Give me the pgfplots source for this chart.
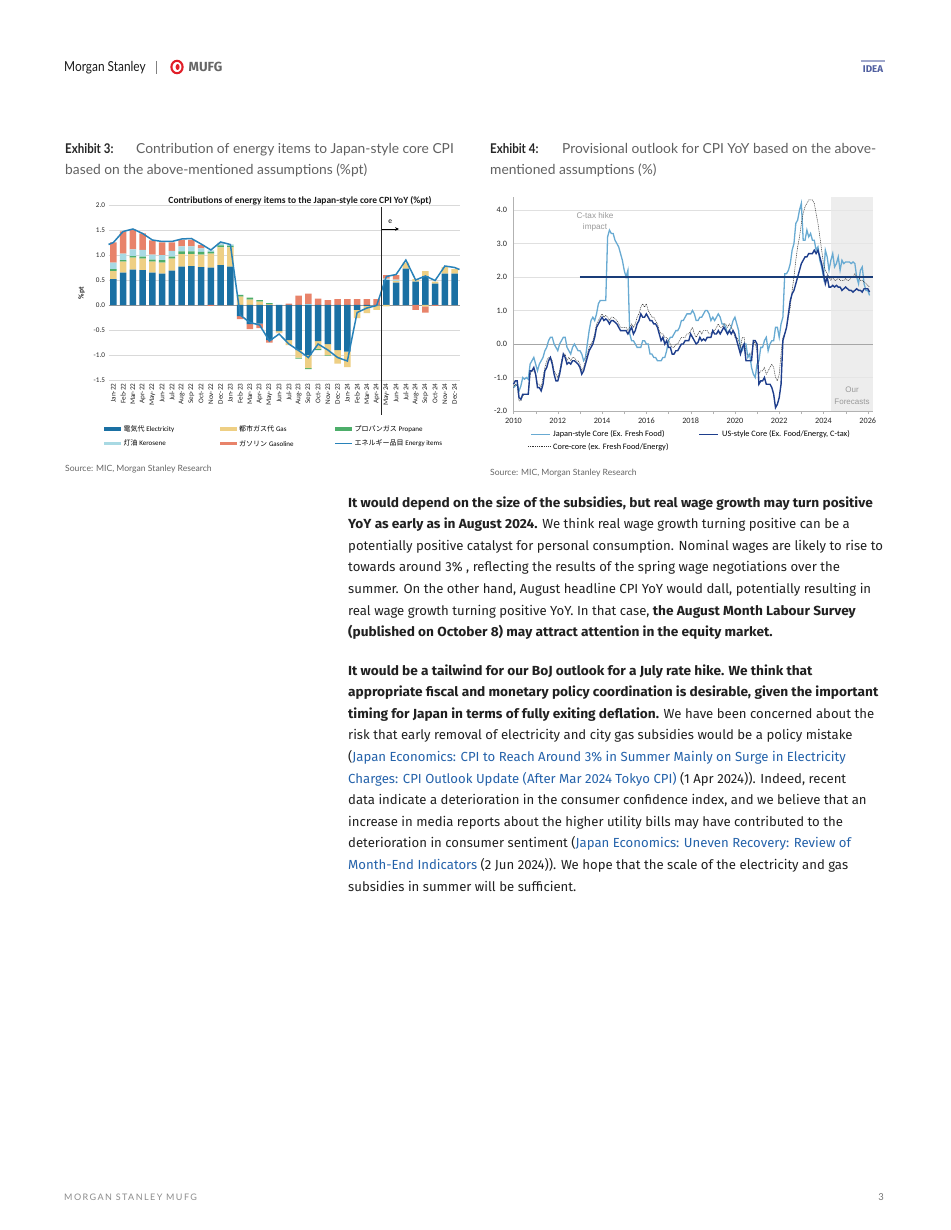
\documentclass[border=0pt]{standalone}
\usepackage{pgfplots}
\pgfplotsset{compat=1.18}
\usepackage{pgfplotstable}
\usetikzlibrary{arrows.meta}
\usepackage{fontspec}
\setmainfont{Fira Sans}
\newfontfamily\bodyfont[BoldFeatures={FakeStretch=1.04}]{Fira Sans}
\newfontfamily\capfont[FakeStretch=0.86]{Lato}
\newfontfamily\captext{Lato}
\newfontfamily\chartfont{Carlito}
\newfontfamily\jpfont{Noto Sans CJK JP}
\newfontfamily\arialfont{Liberation Sans}
\newfontfamily\footfont[LetterSpace=16]{Lato}

\definecolor{elec}{RGB}{26,112,163}
\definecolor{gasc}{RGB}{238,207,132}
\definecolor{prop}{RGB}{77,174,106}
\definecolor{kero}{RGB}{168,217,227}
\definecolor{gaso}{RGB}{232,131,106}
\definecolor{enl}{RGB}{40,130,185}
\definecolor{jpc}{RGB}{104,170,210}
\definecolor{usc}{RGB}{30,62,140}
\definecolor{tgt}{RGB}{25,60,120}
\definecolor{linkc}{RGB}{36,98,170}
\definecolor{mufgred}{RGB}{225,30,40}
\definecolor{idea}{RGB}{80,95,160}

% Exhibit 3: positive contributions
\pgfplotstableread{
x e g p k s
0 0.52 0.16 0.04 0.13 0.40
1 0.65 0.22 0.03 0.13 0.44
2 0.71 0.24 0.03 0.13 0.40
3 0.70 0.23 0.04 0.13 0.33
4 0.65 0.22 0.04 0.10 0.28
5 0.63 0.22 0.05 0.10 0.25
6 0.69 0.24 0.04 0.11 0.17
7 0.77 0.25 0.05 0.10 0.13
8 0.78 0.24 0.05 0.10 0.13
9 0.76 0.25 0.05 0.07 0.07
10 0.75 0.28 0.03 0.03 0
11 0.80 0.35 0.04 0.04 0.01
12 0.77 0.38 0.03 0.03 0
13 0 0.17 0.03 0.01 0
14 0 0.11 0.04 0 0
15 0 0.07 0.03 0 0
16 0 0.02 0.02 0 0
17 0 0 0 0 0
18 0 0 0 0 0.03
19 0 0 0 0 0.19
20 0 0 0 0.02 0.21
21 0 0 0 0 0.13
22 0 0 0 0 0.10
23 0 0 0 0 0.12
24 0 0 0 0 0.12
25 0 0 0 0 0.12
26 0 0 0 0 0.12
27 0 0 0 0 0.12
28 0.50 0 0 0.03 0.07
29 0.45 0.03 0 0.03 0.09
30 0.73 0.12 0 0 0
31 0.47 0.05 0 0 0
32 0.58 0.10 0 0 0
33 0.43 0.04 0 0 0
34 0.63 0.13 0 0 0
35 0.63 0.09 0 0 0
}\posdata

% Exhibit 3: negative contributions
\pgfplotstableread{
x e g p k s
10 0 0 0 0 -0.02
13 -0.22 0 0 0 -0.06
14 -0.38 0 0 0 -0.10
15 -0.37 0 0 0 -0.09
16 -0.70 0 0 0 -0.05
17 -0.52 -0.03 0 0 -0.01
18 -0.70 -0.10 0 0 0
19 -0.90 -0.15 -0.02 0 0
20 -1.00 -0.26 -0.02 0 0
21 -0.72 -0.15 -0.03 0 0
22 -0.78 -0.22 -0.01 0 0
23 -0.90 -0.27 0 0 0
24 -0.93 -0.31 0 0 0
25 -0.10 -0.16 0 0 0
26 -0.02 -0.14 0 0 0
27 -0.01 -0.09 0 0 0
28 0 -0.03 0 0 0
31 0 0 0 0 -0.10
32 0 -0.03 0 0 -0.12
33 0 0 0 0 -0.02
}\negdata

% Exhibit 3: energy items total
\pgfplotstableread{
x y
-0.5 1.21
0 1.25
1 1.47
2 1.52
3 1.43
4 1.30
5 1.27
6 1.27
7 1.32
8 1.33
9 1.22
10 1.10
11 1.26
12 1.21
13 -0.20
14 -0.35
15 -0.40
16 -0.72
17 -0.58
18 -0.78
19 -0.91
20 -1.05
21 -0.78
22 -0.90
23 -1.05
24 -1.12
25 -0.15
26 -0.06
27 -0.01
28 0.57
29 0.61
30 0.90
31 0.50
32 0.58
33 0.49
34 0.78
35 0.75
35.5 0.71
}\enline

% Exhibit 4: monthly YoY, m = months since Jan 2010
\pgfplotstableread{
m jp us cc
0 -1.30 -1.20 -1.30
1 -1.25 -1.10 -1.20
2 -1.20 -1.10 -1.25
3 -1.40 -1.60 -1.70
4 -1.25 -1.65 -1.70
5 -1.00 -1.50 -1.55
6 -1.05 -1.50 -1.50
7 -1.00 -1.50 -1.50
8 -1.05 -1.50 -1.50
9 -0.60 -0.80 -0.90
10 -0.50 -0.80 -0.80
11 -0.40 -0.70 -0.80
12 -0.60 -0.90 -0.90
13 -0.80 -1.30 -1.20
14 -0.60 -1.30 -1.20
15 -0.50 -1.40 -1.30
16 -0.40 -1.20 -1.00
17 -0.20 -0.80 -0.70
18 -0.10 -0.70 -0.50
19 0.10 -0.50 -0.40
20 0.20 -0.40 -0.40
21 0.20 -0.60 -0.50
22 0.00 -0.90 -0.80
23 -0.10 -1.10 -0.90
24 -0.20 -1.10 -1.00
25 0.00 -0.90 -0.80
26 0.10 -0.60 -0.50
27 0.20 -0.30 -0.30
28 0.20 -0.40 -0.30
29 -0.10 -0.60 -0.50
30 -0.20 -0.55 -0.40
31 -0.30 -0.60 -0.50
32 -0.10 -0.50 -0.40
33 0.00 -0.50 -0.40
34 -0.10 -0.55 -0.50
35 -0.20 -0.60 -0.50
36 -0.20 -0.70 -0.60
37 -0.30 -0.90 -0.80
38 -0.50 -0.80 -0.70
39 -0.40 -0.60 -0.50
40 0.00 -0.40 -0.30
41 0.40 -0.20 -0.10
42 0.70 -0.10 0.00
43 0.80 0.00 0.10
44 0.70 0.20 0.30
45 0.90 0.50 0.60
46 1.20 0.60 0.70
47 1.30 0.70 0.80
48 1.30 0.80 0.90
49 1.30 0.70 0.80
50 1.30 0.75 0.85
51 3.20 0.70 0.80
52 3.40 0.60 0.70
53 3.30 0.70 0.80
54 3.30 0.70 0.80
55 3.10 0.65 0.75
56 3.00 0.60 0.70
57 2.90 0.50 0.60
58 2.70 0.40 0.50
59 2.50 0.40 0.50
60 2.20 0.40 0.50
61 2.00 0.40 0.50
62 2.20 0.30 0.40
63 0.30 0.40 0.50
64 0.10 0.50 0.60
65 0.10 0.30 0.50
66 0.00 0.40 0.60
67 -0.10 0.60 0.80
68 -0.10 0.70 0.90
69 -0.10 0.90 1.10
70 0.10 0.80 1.20
71 0.10 0.80 1.10
72 0.00 0.90 1.20
73 0.00 0.80 1.00
74 -0.30 0.70 0.90
75 -0.30 0.70 0.80
76 -0.40 0.60 0.80
77 -0.40 0.60 0.70
78 -0.50 0.50 0.60
79 -0.50 0.30 0.40
80 -0.50 0.10 0.30
81 -0.40 0.20 0.30
82 -0.40 0.00 0.20
83 -0.20 0.10 0.20
84 0.10 -0.10 0.10
85 0.20 -0.10 0.00
86 0.20 -0.30 -0.10
87 0.30 -0.30 -0.10
88 0.40 -0.20 0.00
89 0.40 -0.20 0.00
90 0.50 -0.10 0.10
91 0.70 0.00 0.20
92 0.70 0.00 0.20
93 0.80 0.10 0.20
94 0.90 0.10 0.30
95 0.90 0.10 0.30
96 0.90 0.30 0.40
97 1.00 0.20 0.50
98 0.90 0.10 0.30
99 0.70 0.00 0.20
100 0.70 0.05 0.30
101 0.80 0.20 0.40
102 0.80 0.10 0.30
103 0.90 0.15 0.40
104 1.00 0.10 0.40
105 1.00 0.20 0.40
106 0.90 0.20 0.30
107 0.70 0.20 0.30
108 0.80 0.40 0.40
109 0.70 0.30 0.40
110 0.80 0.30 0.50
111 0.90 0.40 0.60
112 0.80 0.30 0.50
113 0.60 0.40 0.50
114 0.60 0.50 0.60
115 0.50 0.40 0.60
116 0.30 0.30 0.50
117 0.40 0.40 0.60
118 0.50 0.30 0.50
119 0.70 0.40 0.40
120 0.80 0.30 0.20
121 0.60 0.10 0.20
122 0.40 -0.10 0.10
123 -0.20 -0.30 -0.10
124 -0.20 -0.10 0.20
125 0.00 0.00 0.20
126 0.00 -0.50 -0.30
127 -0.40 -0.50 -0.30
128 -0.30 -0.50 -0.30
129 -0.70 -0.50 -0.30
130 -0.90 0.10 0.10
131 -1.00 0.10 0.00
132 -0.60 0.00 -0.20
133 -0.50 -1.20 -0.90
134 -0.10 -1.10 -0.80
135 -0.10 -1.10 -0.80
136 0.10 -1.00 -0.70
137 0.20 -1.20 -0.90
138 -0.20 -1.20 -0.80
139 0.00 -1.20 -0.70
140 0.10 -1.30 -0.60
141 0.10 -1.50 -0.70
142 0.50 -1.90 -1.00
143 0.50 -1.80 -1.10
144 0.20 -1.60 -0.90
145 0.60 -1.20 -0.30
146 0.80 0.10 0.20
147 2.10 0.30 0.30
148 2.10 0.50 0.50
149 2.20 0.90 0.80
150 2.40 1.30 1.10
151 2.80 1.50 1.60
152 3.00 1.60 2.00
153 3.60 1.80 2.50
154 3.70 2.00 2.90
155 4.00 2.20 3.20
156 4.20 2.40 3.60
157 3.10 2.50 3.90
158 3.10 2.60 4.10
159 3.40 2.60 4.20
160 3.20 2.70 4.30
161 3.30 2.70 4.30
162 3.10 2.70 4.30
163 3.10 2.80 4.20
164 2.80 2.70 3.90
165 2.90 2.80 3.60
166 2.50 2.60 3.20
167 2.30 2.40 2.80
168 2.00 2.10 2.40
169 2.80 1.80 2.20
170 2.60 2.00 2.10
171 2.20 1.70 2.00
172 2.50 1.70 1.90
173 2.70 1.75 2.00
174 2.30 1.70 1.90
175 2.40 1.75 1.90
176 2.60 1.70 2.00
177 2.20 1.70 1.90
178 2.50 1.60 1.90
179 2.40 1.65 1.90
180 2.45 1.70 1.95
181 2.45 1.65 1.90
182 2.45 1.60 1.90
183 2.40 1.60 2.00
184 2.45 1.55 2.00
185 2.40 1.60 2.10
186 2.00 1.65 2.00
187 1.80 1.60 2.00
188 2.20 1.60 1.90
189 2.30 1.55 1.90
190 1.80 1.65 1.85
191 1.60 1.65 1.80
192 1.60 1.65 1.75
193 1.45 1.55 1.70
}\cpidata

\newcommand{\bl}[2]{\node[anchor=base west, inner sep=0pt, font=\bodyfont\fontsize{13.15}{15}\selectfont, text=black!87] at (348pt,-#1pt) {#2};}
\newcommand{\lk}[1]{\textcolor{linkc}{#1}}

\begin{document}
\begin{tikzpicture}
\fill[white] (0pt,0pt) rectangle (950pt,-1230pt);

% ---------- header ----------
\node[anchor=base west, inner sep=0pt, font=\capfont\fontsize{13.8}{15}\selectfont, text=black!90] at (64pt,-72pt) {Morgan Stanley};
\draw[black!50, line width=0.6pt] (156pt,-61pt) -- (156pt,-74pt);
\draw[mufgred, line width=2.1pt] (177pt,-67pt) ellipse (5.6pt and 6.2pt);
\fill[mufgred] (177.6pt,-67pt) ellipse (2.0pt and 3.0pt);
\node[anchor=base west, inner sep=0pt, font=\bfseries\fontsize{13.2}{14}\selectfont, text=black!60] at (188.5pt,-72pt) {MUFG};
\fill[idea!55] (861pt,-60pt) rectangle (885pt,-62pt);
\node[anchor=base, inner sep=0pt, font=\bfseries\fontsize{9.8}{11}\selectfont, text=idea] at (873pt,-72.5pt) {IDEA};

% ---------- captions ----------
\node[anchor=base west, inner sep=0pt, font=\capfont\fontsize{13.4}{15}\selectfont, text=black!85] at (65pt,-154pt) {\bfseries Exhibit 3:};
\node[anchor=base west, inner sep=0pt, font=\captext\fontsize{13.8}{15}\selectfont, text=black!62] at (136pt,-154pt) {Contribution of energy items to Japan-style core CPI};
\node[anchor=base west, inner sep=0pt, font=\captext\fontsize{13.8}{15}\selectfont, text=black!62] at (65pt,-175pt) {based on the above-mentioned assumptions (\%pt)};
\node[anchor=base west, inner sep=0pt, font=\capfont\fontsize{13.4}{15}\selectfont, text=black!85] at (490pt,-154pt) {\bfseries Exhibit 4:};
\node[anchor=base west, inner sep=0pt, font=\captext\fontsize{13.8}{15}\selectfont, text=black!62] at (562pt,-154pt) {Provisional outlook for CPI YoY based on the above-};
\node[anchor=base west, inner sep=0pt, font=\captext\fontsize{13.8}{15}\selectfont, text=black!62] at (490pt,-175pt) {mentioned assumptions (\%)};

% ---------- Exhibit 3 ----------
\node[font=\chartfont\bfseries\fontsize{9.5}{11}\selectfont, text=black!90] at (300pt,-200.5pt) {Contributions of energy items to the Japan-style core CPI YoY (\%pt)};
\node[rotate=90, font=\chartfont\bfseries\fontsize{7.5}{8}\selectfont, text=black!85] at (81.7pt,-293pt) {\%pt};

\begin{axis}[at={(108.5pt,-380pt)}, anchor=south west, scale only axis,
  width=351pt, height=175pt,
  xmin=-0.5, xmax=35.5, ymin=-1.5, ymax=2.0,
  ybar stacked, bar width=6.4pt,
  axis line style={draw=none}, tick style={draw=none},
  ytick={-1.5,-1,-0.5,0,0.5,1,1.5,2},
  yticklabels={-1.5,-1.0,-0.5,0.0,0.5,1.0,1.5,2.0},
  ymajorgrids, grid style={draw=black!15, line width=0.5pt},
  extra y ticks={0}, extra y tick labels={},
  extra y tick style={grid style={draw=black!40, line width=0.6pt}},
  xtick={0,...,35},
  xticklabels={Jan-22,Feb-22,Mar-22,Apr-22,May-22,Jun-22,Jul-22,Aug-22,Sep-22,Oct-22,Nov-22,Dec-22,Jan-23,Feb-23,Mar-23,Apr-23,May-23,Jun-23,Jul-23,Aug-23,Sep-23,Oct-23,Nov-23,Dec-23,Jan-24,Feb-24,Mar-24,Apr-24,May-24,Jun-24,Jul-24,Aug-24,Sep-24,Oct-24,Nov-24,Dec-24},
  xticklabel style={rotate=90, anchor=east, font=\chartfont\fontsize{7.2}{8}\selectfont, text=black!85},
  yticklabel style={font=\chartfont\fontsize{7.2}{8}\selectfont, text=black!85},
  clip=false]
\addplot[fill=elec, draw=none] table[x=x, y=e] {\posdata};
\addplot[fill=gasc, draw=none] table[x=x, y=g] {\posdata};
\addplot[fill=prop, draw=none] table[x=x, y=p] {\posdata};
\addplot[fill=kero, draw=none] table[x=x, y=k] {\posdata};
\addplot[fill=gaso, draw=none] table[x=x, y=s] {\posdata};
\end{axis}

\begin{axis}[at={(108.5pt,-380pt)}, anchor=south west, scale only axis,
  width=351pt, height=175pt,
  xmin=-0.5, xmax=35.5, ymin=-1.5, ymax=2.0,
  ybar stacked, bar width=6.4pt, hide axis, clip=false]
\addplot[fill=elec, draw=none] table[x=x, y=e] {\negdata};
\addplot[fill=gasc, draw=none] table[x=x, y=g] {\negdata};
\addplot[fill=prop, draw=none] table[x=x, y=p] {\negdata};
\addplot[fill=kero, draw=none] table[x=x, y=k] {\negdata};
\addplot[fill=gaso, draw=none] table[x=x, y=s] {\negdata};
\end{axis}

\begin{axis}[at={(108.5pt,-380pt)}, anchor=south west, scale only axis,
  width=351pt, height=175pt,
  xmin=-0.5, xmax=35.5, ymin=-1.5, ymax=2.0,
  hide axis, clip=false]
\addplot[enl, line width=1.5pt, mark=none] table[x=x, y=y] {\enline};
\draw[black!85, line width=0.5pt] (axis cs:27.5,1.95) -- (axis cs:27.5,-2.2);
\draw[black, line width=0.5pt, -{Stealth[length=4pt, width=3.5pt]}] (axis cs:27.5,1.52) -- (axis cs:29.3,1.52);
\node[font=\chartfont\fontsize{7.5}{8}\selectfont] at (axis cs:28.4,1.67) {e};
\end{axis}

% legend exhibit 3
\begin{scope}[font=\fontsize{7}{8}\selectfont]
\draw[elec, line width=3.6pt] (104.3pt,-429pt) -- (121pt,-429pt);
\node[anchor=west, inner sep=0pt] at (123.3pt,-429pt) {{\jpfont 電気代} {\chartfont Electricity}};
\draw[gasc, line width=3.6pt] (220pt,-429pt) -- (236.7pt,-429pt);
\node[anchor=west, inner sep=0pt] at (239pt,-429pt) {{\jpfont 都市ガス代} {\chartfont Gas}};
\draw[prop, line width=3.6pt] (335.3pt,-429pt) -- (352pt,-429pt);
\node[anchor=west, inner sep=0pt] at (354.3pt,-429pt) {{\jpfont プロパンガス} {\chartfont Propane}};
\draw[kero, line width=3.6pt] (104.3pt,-443.3pt) -- (121pt,-443.3pt);
\node[anchor=west, inner sep=0pt] at (123.3pt,-443.3pt) {{\jpfont 灯油} {\chartfont Kerosene}};
\draw[gaso, line width=3.6pt] (220pt,-443.3pt) -- (236.7pt,-443.3pt);
\node[anchor=west, inner sep=0pt] at (239pt,-443.3pt) {{\jpfont ガソリン} {\chartfont Gasoline}};
\draw[enl, line width=1.5pt] (335.3pt,-443.3pt) -- (352pt,-443.3pt);
\node[anchor=west, inner sep=0pt] at (354.3pt,-443.3pt) {{\jpfont エネルギー品目} {\chartfont Energy items}};
\end{scope}

\node[anchor=base west, inner sep=0pt, font=\captext\fontsize{8.6}{10}\selectfont, text=black!60] at (65pt,-471pt) {Source: MIC, Morgan Stanley Research};

% ---------- Exhibit 4 ----------
\begin{axis}[at={(513.5pt,-411pt)}, anchor=south west, scale only axis,
  width=359.8pt, height=214.4pt,
  xmin=2010, xmax=2026.25, ymin=-2, ymax=4.4, clip=false,
  axis x line*=bottom, axis y line*=left,
  axis line style={draw=black!30, line width=0.6pt},
  xtick={2010,2012,...,2026},
  xticklabels={2010,2012,2014,2016,2018,2020,2022,2024,2026},
  minor xtick={2011,2013,...,2025},
  xtick style={draw=black!30}, tick align=outside,
  major tick length=3pt, minor tick length=3pt,
  ytick={-2,-1,0,1,2,3,4},
  yticklabels={-2.0,-1.0,0.0,1.0,2.0,3.0,4.0},
  ytick style={draw=none},
  ymajorgrids, grid style={draw=black!12, line width=0.5pt},
  ticklabel style={font=\chartfont\fontsize{8.2}{9}\selectfont, text=black!85},
  xticklabel style={text height=5.6pt, text depth=0pt}]
\fill[black!9, fill opacity=0.75] (axis cs:2024.33,-2) rectangle (axis cs:2026.25,4.4);
\draw[black!35, line width=0.8pt] (axis cs:2010,0) -- (axis cs:2026.25,0);
\addplot[jpc, line width=1.3pt, mark=none] table[x expr=2010+\thisrow{m}/12, y=jp] {\cpidata};
\addplot[black!80, line width=0.5pt, dash pattern=on 1pt off 0.8pt, mark=none] table[x expr=2010+\thisrow{m}/12, y=cc] {\cpidata};
\addplot[usc, line width=1.4pt, mark=none] table[x expr=2010+\thisrow{m}/12, y=us] {\cpidata};
\addplot[tgt, line width=1.6pt, mark=none] coordinates {(2013,2) (2026.25,2)};
\end{axis}

\node[align=center, font=\arialfont\fontsize{8.2}{11.5}\selectfont, text=black!40] at (595pt,-222pt) {C-tax hike\\impact};
\node[align=center, font=\arialfont\fontsize{8}{11.5}\selectfont, text=black!40] at (852pt,-395.5pt) {Our\\Forecasts};

% legend exhibit 4
\begin{scope}[font=\chartfont\fontsize{8.3}{9}\selectfont]
\draw[jpc, line width=1.3pt] (531pt,-434.3pt) -- (550pt,-434.3pt);
\node[anchor=west, inner sep=0pt] at (553pt,-434.3pt) {Japan-style Core (Ex. Fresh Food)};
\draw[usc, line width=1.4pt] (699pt,-434.3pt) -- (718pt,-434.3pt);
\node[anchor=west, inner sep=0pt] at (722pt,-434.3pt) {US-style Core (Ex. Food/Energy, C-tax)};
\draw[black!80, line width=0.5pt, dash pattern=on 1pt off 0.8pt] (528pt,-446.7pt) -- (550pt,-446.7pt);
\node[anchor=west, inner sep=0pt] at (553pt,-446.7pt) {Core-core (ex. Fresh Food/Energy)};
\end{scope}

\node[anchor=base west, inner sep=0pt, font=\captext\fontsize{8.6}{10}\selectfont, text=black!60] at (490pt,-475pt) {Source: MIC, Morgan Stanley Research};

% ---------- body text ----------
\bl{507}{\bfseries It would depend on the size of the subsidies, but real wage growth may turn positive}
\bl{528.6}{\textbf{YoY as early as in August 2024.} We think real wage growth turning positive can be a}
\bl{550.2}{potentially positive catalyst for personal consumption. Nominal wages are likely to rise to}
\bl{571.8}{towards around 3\% , reflecting the results of the spring wage negotiations over the}
\bl{593.4}{summer. On the other hand, August headline CPI YoY would dall, potentially resulting in}
\bl{615}{real wage growth turning positive YoY. In that case, \textbf{the August Month Labour Survey}}
\bl{636.6}{\bfseries (published on October 8) may attract attention in the equity market.}

\bl{675}{\bfseries It would be a tailwind for our BoJ outlook for a July rate hike. We think that}
\bl{696.6}{\bfseries appropriate fiscal and monetary policy coordination is desirable, given the important}
\bl{718.2}{\textbf{timing for Japan in terms of fully exiting deflation.} We have been concerned about the}
\bl{739.8}{risk that early removal of electricity and city gas subsidies would be a policy mistake}
\bl{761.4}{(\lk{Japan Economics: CPI to Reach Around 3\% in Summer Mainly on Surge in Electricity}}
\bl{783}{\lk{Charges: CPI Outlook Update (After Mar 2024 Tokyo CPI)} (1 Apr 2024)). Indeed, recent}
\bl{804.6}{data indicate a deterioration in the consumer confidence index, and we believe that an}
\bl{826.2}{increase in media reports about the higher utility bills may have contributed to the}
\bl{847.8}{deterioration in consumer sentiment (\lk{Japan Economics: Uneven Recovery: Review of}}
\bl{869.4}{\lk{Month-End Indicators} (2 Jun 2024)). We hope that the scale of the electricity and gas}
\bl{891}{subsidies in summer will be sufficient.}

% ---------- footer ----------
\node[anchor=base west, inner sep=0pt, font=\footfont\fontsize{9}{10}\selectfont, text=black!45] at (64pt,-1200pt) {MORGAN STANLEY MUFG};
\node[anchor=base east, inner sep=0pt, font=\captext\fontsize{9.5}{10}\selectfont, text=black!55] at (884pt,-1200pt) {3};
\end{tikzpicture}
\end{document}
